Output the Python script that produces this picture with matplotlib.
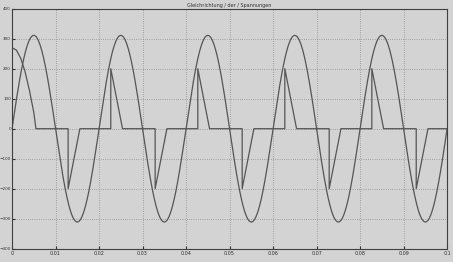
import numpy as np
import matplotlib
matplotlib.use('Agg')
import matplotlib.pyplot as plt

# mains voltage
amp = 311.0
freq = 50.0

# pulse voltage: start-up part, then triangular pulses
start_t = [0, 0.001, 0.002, 0.003, 0.004, 0.005, 0.0055]
start_v = [270, 262, 235, 190, 128, 55, 0]
pos_on = [0.0227, 0.0427, 0.0627, 0.0827]
neg_on = [0.0129, 0.0329, 0.0529, 0.0729, 0.0929]
pulse_h = 200
pulse_w = 0.0027

xticks = [0, 0.01, 0.02, 0.03, 0.04, 0.05, 0.06, 0.07, 0.08, 0.09, 0.1]
xlabels = ['0', '0.01', '0.02', '0.03', '0.04', '0.05', '0.06', '0.07', '0.08', '0.09', '0.1']
yticks = [-400, -300, -200, -100, 0, 100, 200, 300, 400]

# build the pulse curve from breakpoints
events = [(t, 1) for t in pos_on] + [(t, -1) for t in neg_on]
events.sort()
pt = list(start_t)
pv = list(start_v)
for t, s in events:
    pt += [t, t, t + pulse_w]
    pv += [0, s * pulse_h, 0]
pt.append(0.1)
pv.append(0)

t = np.linspace(0, 0.1, 2000)
u = amp * np.sin(2 * np.pi * freq * t)

bg = '#d3d3d3'
fig = plt.figure(figsize=(4.53, 2.62), dpi=100, facecolor=bg)
ax = fig.add_axes([0.0265, 0.0508, 0.9605, 0.916], facecolor=bg)
ax.plot(t, u, color='#555555', lw=0.9)
ax.plot(pt, pv, color='#555555', lw=0.9)
ax.set_xlim(0, 0.1)
ax.set_ylim(-400, 400)
ax.set_xticks(xticks)
ax.set_xticklabels(xlabels)
ax.set_yticks(yticks)
ax.grid(True, linestyle=':', color='#8f8f8f', lw=0.6)
ax.tick_params(direction='in', length=2, labelsize=3.5, pad=1.5, colors='#303030')
ax.tick_params(axis='y', labelsize=3, pad=0.8)
for s in ax.spines.values():
    s.set_color('#404040')
    s.set_linewidth(0.8)
ax.set_title('Gleichrichtung / der / Spannungen', fontsize=3.5, pad=1.5, color='#303030')

fig.savefig('out.png', dpi=100, facecolor=bg)
